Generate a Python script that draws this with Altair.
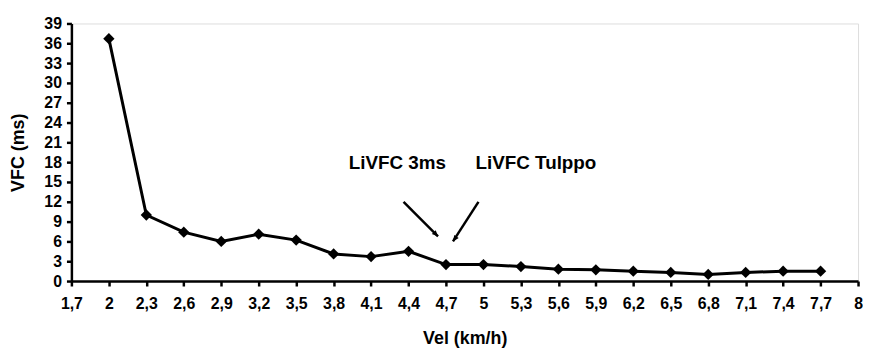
import altair as alt
import pandas as pd

vel = [2.0, 2.3, 2.6, 2.9, 3.2, 3.5, 3.8, 4.1, 4.4, 4.7, 5.0, 5.3, 5.6, 5.9, 6.2, 6.5, 6.8, 7.1, 7.4, 7.7]
vfc = [36.7, 10.0, 7.4, 6.0, 7.1, 6.2, 4.1, 3.7, 4.5, 2.5, 2.5, 2.2, 1.8, 1.7, 1.5, 1.3, 1.0, 1.3, 1.5, 1.5]

x_ticks = [1.7, 2.0, 2.3, 2.6, 2.9, 3.2, 3.5, 3.8, 4.1, 4.4, 4.7, 5.0, 5.3, 5.6, 5.9, 6.2, 6.5, 6.8, 7.1, 7.4, 7.7, 8.0]
y_ticks = [0, 3, 6, 9, 12, 15, 18, 21, 24, 27, 30, 33, 36, 39]

labels = ["LiVFC 3ms", "LiVFC Tulppo"]
label_x = [4.31, 5.42]
label_y = [17.8, 17.8]

arrow_x = [4.36, 4.96]
arrow_y = [12.0, 12.0]
arrow_x2 = [4.636, 4.756]
arrow_y2 = [6.75, 6.0]
arrow_angle = [136, 215]

FONT = "Liberation Sans"

df = pd.DataFrame({"vel": vel, "vfc": vfc})
lab = pd.DataFrame({"t": labels, "x": label_x, "y": label_y})
arr = pd.DataFrame({"x": arrow_x, "y": arrow_y, "x2": arrow_x2, "y2": arrow_y2, "a": arrow_angle})

xscale = alt.Scale(domain=[1.7, 8.0], nice=False, zero=False)
yscale = alt.Scale(domain=[0, 39], nice=False)

xaxis = alt.Axis(values=x_ticks, title="Vel (km/h)", grid=False,
                 labelExpr="replace(format(datum.value, '.1~f'), '.', ',')",
                 labelPadding=10, titlePadding=18)
yaxis = alt.Axis(values=y_ticks, title="VFC (ms)", grid=False,
                 labelPadding=5, titlePadding=17)

X = alt.X("vel:Q", scale=xscale, axis=xaxis)
Y = alt.Y("vfc:Q", scale=yscale, axis=yaxis)

line = alt.Chart(df).mark_line(color="black", strokeWidth=3).encode(x=X, y=Y)
pts = alt.Chart(df).mark_point(shape="diamond", filled=True, color="black", size=130, opacity=1).encode(x=X, y=Y)
texts = alt.Chart(lab).mark_text(font=FONT, fontSize=19, fontWeight="bold", color="black").encode(
    x=alt.X("x:Q", scale=xscale, axis=xaxis),
    y=alt.Y("y:Q", scale=yscale, axis=yaxis),
    text="t:N",
)
shafts = alt.Chart(arr).mark_rule(color="black", strokeWidth=2.5).encode(
    x=alt.X("x:Q", scale=xscale, axis=xaxis),
    y=alt.Y("y:Q", scale=yscale, axis=yaxis),
    x2="x2:Q",
    y2="y2:Q",
)
heads = alt.Chart(arr).mark_point(shape="M0,0L-0.45,1L0.45,1Z", filled=True, color="black",
                                  size=150, opacity=1).encode(
    x=alt.X("x2:Q", scale=xscale, axis=xaxis),
    y=alt.Y("y2:Q", scale=yscale, axis=yaxis),
    angle=alt.Angle("a:Q", scale=None),
)

chart = alt.layer(line, pts, shafts, heads, texts).properties(
    width=794, height=260,
    autosize=alt.AutoSizeParams(type="none"),
    padding={"left": 64, "top": 14, "right": 5, "bottom": 70},
).configure_view(stroke=None).configure(background="white").configure_axis(
    labelOverlap=False, labelFlush=False,
    labelFont=FONT, labelFontSize=16, labelFontWeight="bold", labelColor="black",
    titleFont=FONT, titleFontSize=18, titleFontWeight="bold", titleColor="black",
    domainColor="black", domainWidth=2.5, tickColor="black", tickWidth=2.5, tickSize=5,
)

chart.save("out.html", embed_options={"renderer": "svg", "actions": False})
